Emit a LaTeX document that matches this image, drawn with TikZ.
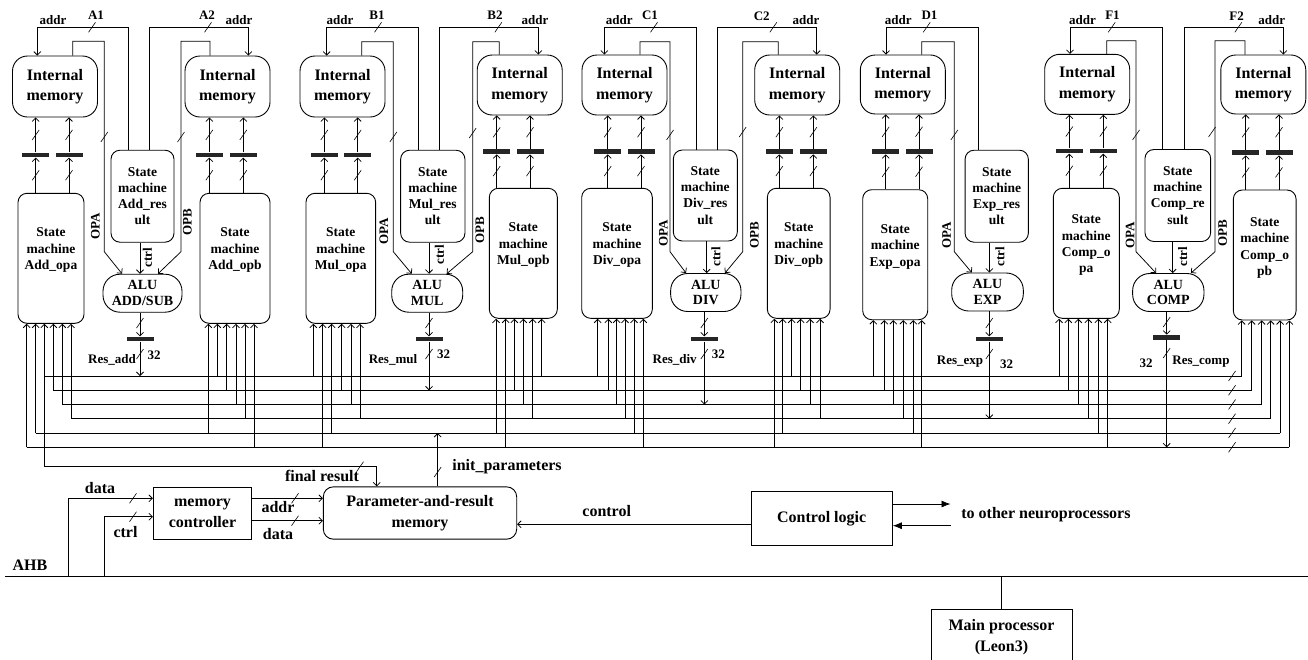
\documentclass[tikz,border=0pt]{standalone}
\usepackage{fontspec}
\setmainfont{Liberation Serif}
\usetikzlibrary{arrows.meta,calc}
\tikzset{
  tk/.pic={\draw[line width=0.6pt] (-3.5pt,-5pt) -- (3.5pt,5pt);},
  arr/.style={-{Straight Barb[length=3.5pt,width=7pt]}},
  farr/.style={-{Latex[length=9pt,width=7pt]}},
  mem/.style={draw, line width=0.9pt, rounded corners=15pt, minimum width=85pt, minimum height=61pt, inner sep=0pt, align=center, font=\fontsize{16}{20.6}\selectfont\bfseries},
  smbox/.style={draw, line width=0.9pt, rounded corners=9pt, inner sep=0pt, minimum height=130pt},
  smtxt/.style={align=center, inner sep=0pt, font=\fontsize{13.5}{16.4}\selectfont\bfseries},
  resbox/.style={draw, line width=0.9pt, rounded corners=9pt, inner sep=0pt, minimum height=92pt, align=center, font=\fontsize{13.5}{16.2}\selectfont\bfseries},
  alubox/.style={draw, line width=0.9pt, rounded corners=17pt, inner sep=0pt, minimum height=38pt, align=center, font=\fontsize{14}{15.7}\selectfont\bfseries},
  barbox/.style={fill=black!85, inner sep=0pt, minimum width=27pt, minimum height=4.5pt},
  lbl/.style={inner sep=0pt, font=\fontsize{13}{15}\selectfont\bfseries},
  blbl/.style={inner sep=0pt, font=\fontsize{16}{20.6}\selectfont\bfseries},
  plainbox/.style={draw, line width=0.9pt, inner sep=0pt, align=center, font=\fontsize{16}{20.6}\selectfont\bfseries},
}
% bar between a state machine and a memory: name, x, bar y, state machine, memory
\newcommand\mlink[5]{%
  \node[barbox] (#1) at (#2,#3) {};
  \draw[arr] (#1.south |- #4.north) -- (#1.south);
  \draw[arr] (#1.north) -- (#1.north |- #5.south);
  \pic at ($(#1.south)!0.5!(#1.south |- #4.north)$) {tk};
  \pic at ($(#1.north)!0.5!(#1.north |- #5.south)$) {tk};
}
% input pins of a state machine: node, list x/bus-y
\newcommand\pins[2]{\foreach \px/\ly in {#2} {\draw[arr] (\px,\ly) -- (\px,0 |- #1.south);}}
\begin{document}
\begin{tikzpicture}[x=1pt,y=-1pt,line width=0.75pt]
\useasboundingbox (0,0) rectangle (1308,659);
\fill[white] (0,0) rectangle (1308,659);
\clip (0,0) rectangle (1308,659);

% ---------------- memories
\node[mem] (mA1) at (55,86.5) {Internal\\memory};
\node[mem] (mA2) at (227.5,86.5) {Internal\\memory};
\node[mem] (mB1) at (342.5,86.5) {Internal\\memory};
\node[mem, minimum height=60pt] (mB2) at (519.7,85) {Internal\\memory};
\node[mem, minimum height=60pt] (mC1) at (624.5,85) {Internal\\memory};
\node[mem, minimum height=60pt] (mC2) at (797.2,85) {Internal\\memory};
\node[mem, minimum height=59pt] (mD1) at (902.8,84.5) {Internal\\memory};
\node[mem, minimum height=60pt] (mF1) at (1087.2,84.3) {Internal\\memory};
\node[mem, minimum height=59pt] (mF2) at (1263.3,84.5) {Internal\\memory};

% ---------------- operand state machines
\node[smbox, minimum width=66pt] (sAa) at (51,258.3) {};
\node[smtxt, yshift=8pt] (tAa) at (sAa) {State\\machine\\Add\_opa};
\node[smbox, minimum width=70pt] (sAb) at (235,258.3) {};
\node[smtxt, yshift=8pt] (tAb) at (sAb) {State\\machine\\Add\_opb};
\node[smbox, minimum width=69.7pt] (sBa) at (340.8,258.3) {};
\node[smtxt, yshift=8pt] (tBa) at (sBa) {State\\machine\\Mul\_opa};
\node[smbox, minimum width=68pt] (sBb) at (523.3,253.3) {};
\node[smtxt, yshift=8pt] (tBb) at (sBb) {State\\machine\\Mul\_opb};
\node[smbox, minimum width=70.6pt] (sCa) at (617,253.3) {};
\node[smtxt, yshift=8pt] (tCa) at (sCa) {State\\machine\\Div\_opa};
\node[smbox, minimum width=62.7pt] (sCb) at (798.7,253.3) {};
\node[smtxt, yshift=8pt] (tCb) at (sCb) {State\\machine\\Div\_opb};
\node[smbox, minimum width=65pt] (sDa) at (895.2,254.7) {};
\node[smtxt, yshift=8pt] (tDa) at (sDa) {State\\machine\\Exp\_opa};
\node[smbox, minimum width=66pt] (sFa) at (1086.3,253.3) {};
\node[smtxt, yshift=8pt] (tFa) at (sFa) {State\\machine\\Comp\_o\\pa};
\node[smbox, minimum width=62.7pt] (sFb) at (1264.7,255) {};
\node[smtxt, yshift=7pt] (tFb) at (sFb) {State\\machine\\Comp\_o\\pb};

% ---------------- result state machines
\node[resbox, minimum width=63pt] (rA) at (142.5,196.2) {State\\machine\\Add\_res\\ult};
\node[resbox, minimum width=64.3pt] (rB) at (432.8,196.2) {State\\machine\\Mul\_res\\ult};
\node[resbox, minimum width=64pt, minimum height=91pt] (rC) at (705.3,195.5) {State\\machine\\Div\_res\\ult};
\node[resbox, minimum width=63.3pt] (rD) at (996.7,196.2) {State\\machine\\Exp\_res\\ult};
\node[resbox, minimum width=65.7pt] (rF) at (1177.8,195.5) {State\\machine\\Comp\_re\\sult};

% ---------------- ALUs
\node[alubox, minimum width=79pt] (aA) at (142.5,293.2) {ALU\\ADD/SUB};
\node[alubox, minimum width=71pt] (aB) at (427.2,293.2) {ALU\\MUL};
\node[alubox, minimum width=70.3pt] (aC) at (705.8,292.5) {ALU\\DIV};
\node[alubox, minimum width=71.6pt] (aD) at (987.5,292) {ALU\\EXP};
\node[alubox, minimum width=71.3pt] (aF) at (1168.3,292.5) {ALU\\COMP};

% ---------------- memory <-> state machine links
\mlink{bA1}{35.7}{155}{sAa}{mA1}
\mlink{bA2}{69}{155}{sAa}{mA1}
\mlink{bA3}{209.3}{155}{sAb}{mA2}
\mlink{bA4}{243.3}{155}{sAb}{mA2}
\mlink{bB1}{324.3}{155}{sBa}{mB1}
\mlink{bB2}{357.7}{155}{sBa}{mB1}
\mlink{bB3}{496.7}{151.7}{sBb}{mB2}
\mlink{bB4}{530}{151.7}{sBb}{mB2}
\mlink{bC1}{607.7}{151.7}{sCa}{mC1}
\mlink{bC2}{641}{151.7}{sCa}{mC1}
\mlink{bC3}{779.3}{151.7}{sCb}{mC2}
\mlink{bC4}{813.3}{151.7}{sCb}{mC2}
\mlink{bD1}{885.7}{151.7}{sDa}{mD1}
\mlink{bD2}{919}{151.7}{sDa}{mD1}
\mlink{bF1}{1069.3}{151}{sFa}{mF1}
\mlink{bF2}{1103.3}{151}{sFa}{mF1}
\mlink{bF3}{1245.7}{152.7}{sFb}{mF2}
\mlink{bF4}{1279}{152.7}{sFb}{mF2}

% ================= group A (ADD/SUB)
\draw[arr] (128.3,0 |- rA.north) -- (128.3,27.3) -| (37.3,0 |- mA1.north);
\pic at (92,27.3) {tk};
\node[lbl] (lA1a) at (53,20.5) {addr};
\node[lbl] (lA1) at (96,15) {A1};
\draw[arr] (149.3,0 |- rA.north) -- (149.3,27.3) -| (248.3,0 |- mA2.north);
\pic at (208,27.3) {tk};
\node[lbl] (lA2) at (207,15) {A2};
\node[lbl] (lA2a) at (239,20.5) {addr};
\draw[arr] (72.7,0 |- mA1.north) |- (104.3,41.3) -- (104.3,251.7) -- (122,0 |- aA.north);
\pic at (104.3,137) {tk};
\node[lbl, rotate=90] (oAa) at (95.5,226) {OPA};
\draw[arr] (210,0 |- mA2.north) |- (181,41.3) -- (181,251.7) -- (158,0 |- aA.north);
\pic at (181,137) {tk};
\node[lbl, rotate=90] (oAb) at (187.5,222) {OPB};
\draw[arr] (140,0 |- rA.south) -- (140,0 |- aA.north);
\node[lbl, rotate=90] (cA) at (147.5,258) {ctrl};
\node[barbox] (oA) at (140,339) {};
\draw[arr] (oA.north |- aA.south) -- (oA.north);
\draw[arr] (oA.south) -- (140,376);
\pic at (140,323) {tk};
\pic at (140,354) {tk};
\node[lbl] (rsA) at (112,360) {Res\_add};
\node[lbl] (nA) at (154,355) {32};

% ================= group B (MUL)
\draw[arr] (418.3,0 |- rB.north) -- (418.3,27.3) -| (326.7,0 |- mB1.north);
\pic at (378,27.3) {tk};
\node[lbl] (lB1a) at (340,20.5) {addr};
\node[lbl] (lB1) at (377,15) {B1};
\draw[arr] (439.3,0 |- rB.north) -- (439.3,27.3) -| (538.3,0 |- mB2.north);
\pic at (498.3,27.3) {tk};
\node[lbl] (lB2) at (495,15) {B2};
\node[lbl] (lB2a) at (535,20.5) {addr};
\draw[arr] (361.7,0 |- mB1.north) |- (393.3,41.7) -- (393.3,251.7) -- (411.7,0 |- aB.north);
\pic at (393.3,137) {tk};
\node[lbl, rotate=90] (oBa) at (384,231.7) {OPA};
\draw[arr] (499.3,0 |- mB2.north) |- (472.7,41.7) -- (472.7,251.7) -- (446.7,0 |- aB.north);
\pic at (472.7,133) {tk};
\node[lbl, rotate=90] (oBb) at (480,230) {OPB};
\draw[arr] (429,0 |- rB.south) -- (429,0 |- aB.north);
\node[lbl, rotate=90] (cB) at (439.3,255) {ctrl};
\node[barbox] (oB) at (429,339) {};
\draw[arr] (oB.north |- aB.south) -- (oB.north);
\draw[arr] (oB.south) -- (429,390.3);
\pic at (429,323) {tk};
\pic at (429,354) {tk};
\node[lbl] (rsB) at (393,360) {Res\_mul};
\node[lbl] (nB) at (443.5,354) {32};

% ================= group C (DIV)
\draw[arr] (696.7,0 |- rC.north) -- (696.7,27.3) -| (604.3,0 |- mC1.north);
\pic at (654,27.3) {tk};
\node[lbl] (lC1a) at (619.3,20.5) {addr};
\node[lbl] (lC1) at (650,15) {C1};
\draw[arr] (717.7,0 |- rC.north) -- (717.7,27.3) -| (816.7,0 |- mC2.north);
\pic at (773.3,27.3) {tk};
\node[lbl] (lC2) at (761.7,16) {C2};
\node[lbl] (lC2a) at (806,20.5) {addr};
\draw[arr] (640,0 |- mC1.north) |- (670,41.7) -- (670,251.7) -- (686,0 |- aC.north);
\pic at (670,135) {tk};
\node[lbl, rotate=90] (oCa) at (663.3,233.3) {OPA};
\draw[arr] (778.3,0 |- mC2.north) |- (742.7,41.7) -- (742.7,251.7) -- (725,0 |- aC.north);
\pic at (742.7,132) {tk};
\node[lbl, rotate=90] (oCb) at (754.3,235) {OPB};
\draw[arr] (706.7,0 |- rC.south) -- (706.7,0 |- aC.north);
\node[lbl, rotate=90] (cC) at (716,256.7) {ctrl};
\node[barbox] (oC) at (704.3,339) {};
\draw[arr] (oC.north |- aC.south) -- (oC.north);
\draw[arr] (oC.south) -- (704.3,404.5);
\pic at (704.3,323) {tk};
\pic at (704.3,354) {tk};
\node[lbl] (rsC) at (674.7,360) {Res\_div};
\node[lbl] (nC) at (718.3,354) {32};

% ================= group D (EXP)
\draw[arr] (978.3,0 |- rD.north) -- (978.3,27.3) -| (886,0 |- mD1.north);
\pic at (926.7,27.3) {tk};
\node[lbl] (lD1a) at (898.3,20.5) {addr};
\node[lbl] (lD1) at (929.5,15) {D1};
\draw[arr] (921.7,0 |- mD1.north) |- (954.3,41.7) -- (954.3,251.7) -- (971.7,0 |- aD.north);
\pic at (954.3,135) {tk};
\node[lbl, rotate=90] (oDa) at (946.7,235) {OPA};
\draw[arr] (989.3,0 |- rD.south) -- (989.3,0 |- aD.north);
\node[lbl, rotate=90] (cD) at (1000,256.7) {ctrl};
\node[barbox] (oD) at (989.3,339) {};
\draw[arr] (oD.north |- aD.south) -- (oD.north);
\draw[arr] (oD.south) -- (989.3,418.7);
\pic at (989.3,323) {tk};
\pic at (989.3,354) {tk};
\node[lbl] (rsD) at (960,361.7) {Res\_exp};
\node[lbl] (nD) at (1006.7,364) {32};

% ================= group F (COMP)
\draw[arr] (1162.7,0 |- rF.north) -- (1162.7,27.3) -| (1070,0 |- mF1.north);
\pic at (1111.7,27.3) {tk};
\node[lbl] (lF1a) at (1082.5,20.5) {addr};
\node[lbl] (lF1) at (1112.5,15) {F1};
\draw[arr] (1184.3,0 |- rF.north) -- (1184.3,27.3) -| (1283.3,0 |- mF2.north);
\pic at (1238.3,27.3) {tk};
\node[lbl] (lF2) at (1236.7,16) {F2};
\node[lbl] (lF2a) at (1271.7,20.5) {addr};
\draw[arr] (1106.7,0 |- mF1.north) |- (1136,40.7) -- (1136,251.7) -- (1156,0 |- aF.north);
\pic at (1136,135) {tk};
\node[lbl, rotate=90] (oFa) at (1130,235) {OPA};
\draw[arr] (1245,0 |- mF2.north) |- (1215,40.7) -- (1215,251.7) -- (1191,0 |- aF.north);
\pic at (1212,132) {tk};
\node[lbl, rotate=90] (oFb) at (1222.7,233.3) {OPB};
\draw[arr] (1172.7,0 |- rF.south) -- (1172.7,0 |- aF.north);
\node[lbl, rotate=90] (cF) at (1182.7,256.7) {ctrl};
\node[barbox] (oF) at (1166.7,337.3) {};
\draw[arr] (oF.north |- aF.south) -- (oF.north);
\draw[arr] (oF.south) -- (1166.7,447.3);
\pic at (1166.7,322) {tk};
\pic at (1166.7,353) {tk};
\node[lbl] (nF) at (1146,363.3) {32};
\node[lbl] (rsF) at (1201,361.7) {Res\_comp};

% ================= bus lines
\draw (44.3,376) -- (1241.7,376);
\draw (53.3,390.3) -- (1251.7,390.3);
\draw (62.3,404.5) -- (1261.7,404.5);
\draw (71,418.7) -- (1270.7,418.7);
\draw (35.7,433) -- (1280,433);
\draw (26.7,447.3) -- (1289.3,447.3);
\foreach \ly in {376,390.3,404.5,418.7,433,447.3} {\pic at (1232,\ly) {tk};}

% ================= pins
\pins{sAa}{26.7/447.3, 35.7/433, 53.3/390.3, 62.3/404.5, 71/418.7}
\pins{sAb}{208.3/433, 217.3/376, 226.7/390.3, 236/404.5, 245/418.7, 254/447.3}
\pins{sBa}{313.3/376, 322.7/447.3, 331.7/433, 341.7/390.3, 351/404.5, 360/418.7}
\pins{sBb}{496/433, 505.7/447.3, 514.3/390.3, 523.3/404.5, 532.7/418.7, 541.7/376}
\pins{sCa}{597.7/376, 608.3/390.3, 616.7/404.5, 625/418.7, 634/433, 643.3/447.3}
\pins{sCb}{774.3/447.3, 782.7/433, 791.7/376, 800.7/390.3, 810/404.5, 820/418.7}
\pins{sDa}{873.3/376, 884.3/390.3, 893.3/404.5, 903.3/418.7, 913.3/433, 921.7/447.3}
\pins{sFa}{1059/376, 1068.3/390.3, 1078.3/404.5, 1088.3/418.7, 1098.3/433, 1107.7/447.3}
\pins{sFb}{1241.7/376, 1251.7/390.3, 1261.7/404.5, 1270.7/418.7, 1280/433, 1289.3/447.3}

% ================= bottom part
\coordinate (ahbL) at (5,576.7);
\coordinate (ahbR) at (1308,576.7);
\draw[line width=0.9pt] (ahbL) -- (ahbR);
\node[blbl] (ahb) at (30,565) {AHB};

\node[plainbox, minimum width=98.4pt, minimum height=52pt] (mc) at (202.5,513.3) {memory\\controller};
\node[plainbox, rounded corners=10pt, minimum width=193.4pt, minimum height=52.3pt] (param) at (420,513) {Parameter-and-result\\memory};
\node[plainbox, minimum width=141.3pt, minimum height=53.3pt] (cl) at (821.7,518.3) {Control logic};
\node[plainbox, minimum width=141pt, minimum height=56pt] (mp) at (1001.5,637) {Main processor\\(Leon3)};
\draw (mp.north) -- (mp.north |- ahbL);

\coordinate (ya) at (0,498.3);
\coordinate (yc) at (0,516.7);
\coordinate (yd) at (0,520.7);
\coordinate (yk) at (0,524.3);
\coordinate (yo1) at (0,504);
\coordinate (yo2) at (0,525.7);
\coordinate (xo) at (950.5,0);

\draw[arr] (68.3,0 |- ahbL) |- (mc.west |- ya);
\pic at (133,498.3) {tk};
\node[blbl] (ldin) at (100,488.3) {data};
\draw[arr] (104,0 |- ahbL) |- (mc.west |- yc);
\pic at (133,516.7) {tk};
\node[blbl] (lcin) at (125.5,531.7) {ctrl};

\draw[arr] (mc.east |- ya) -- (param.west |- ya);
\pic at (295,498.3) {tk};
\node[blbl] (laddr) at (278,506.7) {addr};
\draw[arr] (mc.east |- yd) -- (param.west |- yd);
\pic at (295,520.7) {tk};
\node[blbl] (ldata) at (278,534) {data};

\draw[arr] (cl.west |- yk) -- (param.east |- yk);
\node[blbl] (lctl) at (606.7,511) {control};

\draw[farr] (cl.east |- yo1) -- (xo |- yo1);
\draw[farr] (xo |- yo2) -- (cl.east |- yo2);
\node[blbl, anchor=west] (ton) at (961,514.3) {to other neuroprocessors};

% final result and init parameters
\draw[arr] (44.3,466.7) -- (44.3,0 |- sAa.south);
\draw[arr] (44.3,466.7) -| (376.7,0 |- param.north);
\pic at (360,466.7) {tk};
\node[blbl] (lfin) at (322,475.5) {final result};
\draw[arr] (437.7,0 |- param.north) -- (437.7,433);
\pic at (437.7,472) {tk};
\node[blbl, anchor=west] (linit) at (452,467) {init\_parameters};
\end{tikzpicture}
\end{document}
